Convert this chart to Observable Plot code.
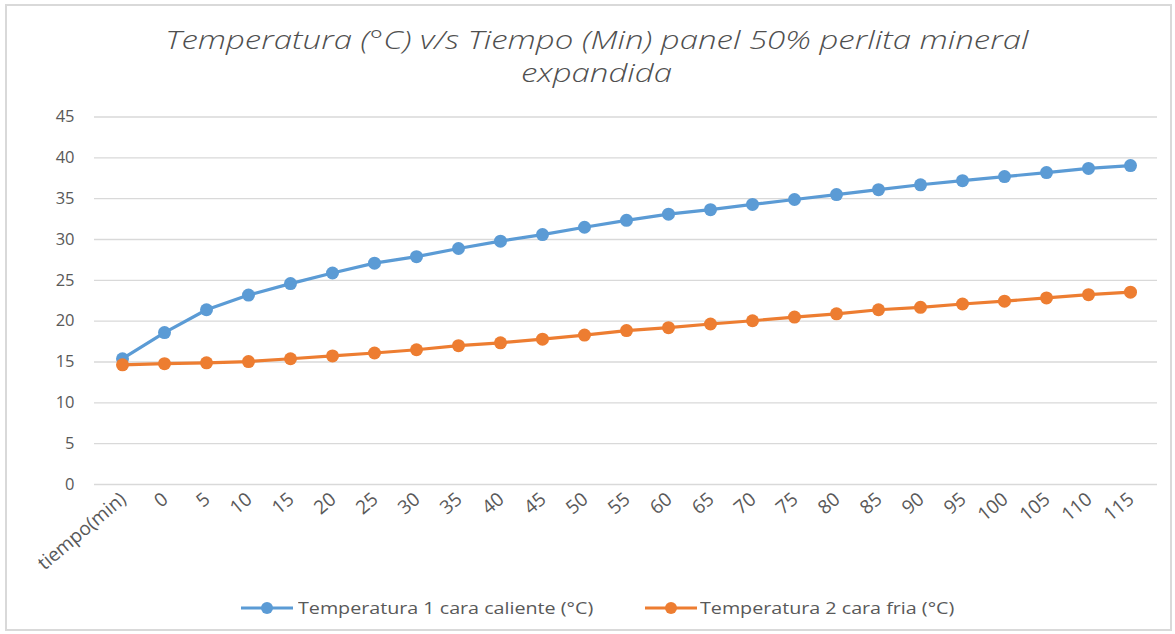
<!DOCTYPE html>
<html>
<head>
<meta charset="utf-8">
<script src="https://cdn.jsdelivr.net/npm/d3@7"></script>
<script src="https://cdn.jsdelivr.net/npm/@observablehq/plot@0.6"></script>
<style>
  html, body { margin: 0; padding: 0; background: #fff; }
  #wrap { position: relative; width: 1175px; height: 634px; overflow: hidden; background: #fff; }
  #frame { position: absolute; left: 5px; top: 4px; width: 1167px; height: 627px; border: 2px solid #d9d9d9; box-sizing: border-box; pointer-events: none; }
  #title { height: 100px; box-sizing: border-box; padding-top: 23px; padding-left: 18px; text-align: center; font-family: "Open Sans", sans-serif; font-style: italic; font-weight: 300; font-size: 26px; line-height: 33px; color: #4f4f4f; }
  #title span { display: inline-block; transform: scaleX(1.27); transform-origin: center; white-space: nowrap; }
  #chart { height: 490px; }
  #legend { position: relative; height: 36px; font-family: "Open Sans", sans-serif; font-size: 16px; color: #595959; }
  .sw { position: absolute; top: 11px; }
  .lt { position: absolute; top: 6px; white-space: nowrap; transform-origin: left center; transform: scaleX(1.23); line-height: 24px; }
</style>
</head>
<body>
<div id="wrap">
  <div id="frame"></div>
  <div id="title"><span>Temperatura (°C) v/s Tiempo (Min) panel 50% perlita mineral</span><br><span>expandida</span></div>
  <div id="chart"></div>
  <div id="legend"></div>
</div>
<script>
const categories = ["tiempo(min)","0","5","10","15","20","25","30","35","40","45","50","55","60","65","70","75","80","85","90","95","100","105","110","115"];
const caliente = [15.4,18.6,21.4,23.2,24.6,25.9,27.1,27.9,28.9,29.8,30.6,31.5,32.35,33.1,33.65,34.3,34.9,35.5,36.1,36.7,37.2,37.7,38.2,38.7,39.05];
const fria = [14.65,14.8,14.9,15.05,15.4,15.75,16.1,16.5,17.0,17.35,17.8,18.3,18.85,19.2,19.65,20.05,20.5,20.9,21.4,21.7,22.1,22.45,22.85,23.25,23.55];
const seriesNames = ["Temperatura 1 cara caliente (°C)", "Temperatura 2 cara fria (°C)"];
const seriesColors = ["#5B9BD5", "#ED7D31"];
const yTicks = [0,5,10,15,20,25,30,35,40,45];

const data = [];
categories.forEach((c, i) => {
  data.push({cat: c, value: caliente[i], serie: seriesNames[0]});
  data.push({cat: c, value: fria[i], serie: seriesNames[1]});
});

const chart = Plot.plot({
  width: 1175,
  height: 490,
  marginTop: 16.5,
  marginBottom: 106,
  marginLeft: 94,
  marginRight: 18,
  style: {fontFamily: "'Open Sans', sans-serif", background: "transparent"},
  x: {type: "point", domain: categories, padding: 0.5, label: null},
  y: {domain: [0, 45], label: null},
  color: {domain: seriesNames, range: seriesColors},
  marks: [
    Plot.gridY(yTicks, {stroke: "#d9d9d9", strokeOpacity: 1, strokeWidth: 1.3}),
    Plot.axisY(yTicks, {tickSize: 0, tickPadding: 20, fontSize: 16.5, color: "#595959", label: null}),
    Plot.axisX({tickSize: 0, tickRotate: -40, tickPadding: 12, dx: 1, fontSize: 19, color: "#595959", label: null}),
    Plot.line(data, {x: "cat", y: "value", z: "serie", stroke: "serie", strokeWidth: 3.2}),
    Plot.dot(data, {x: "cat", y: "value", fill: "serie", r: 6.5, stroke: null})
  ]
});
document.getElementById("chart").appendChild(chart);

const legend = document.getElementById("legend");
const swatchX = [240, 644];
const textX = [298, 700];
seriesNames.forEach((name, i) => {
  const sw = document.createElement("div");
  sw.className = "sw";
  sw.style.left = swatchX[i] + "px";
  sw.innerHTML = `<svg width="54" height="14" style="display:block"><line x1="1" x2="53" y1="7" y2="7" stroke="${seriesColors[i]}" stroke-width="3"/><circle cx="27" cy="7" r="6" fill="${seriesColors[i]}"/></svg>`;
  legend.appendChild(sw);
  const t = document.createElement("div");
  t.className = "lt";
  t.style.left = textX[i] + "px";
  t.textContent = name;
  legend.appendChild(t);
});
</script>
</body>
</html>
